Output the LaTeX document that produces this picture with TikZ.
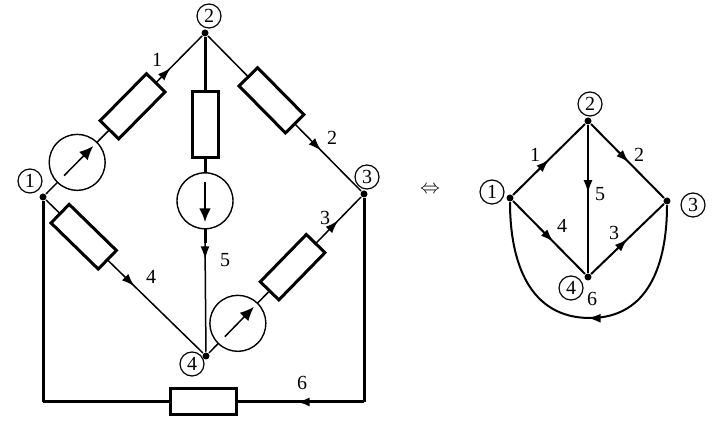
\documentclass[tikz,border=0pt]{standalone}
\usepackage{fontspec}
\setmainfont{Liberation Serif}
\usetikzlibrary{arrows.meta,decorations.markings,calc}

\begin{document}
\begin{tikzpicture}[x=0.5pt, y=-0.5pt, line width=0.75pt,
  dot/.style={circle, fill, inner sep=0pt, minimum size=3.5pt},
  num/.style={circle, draw, line width=0.6pt, inner sep=0.5pt, minimum size=12pt},
  res/.style={draw, fill=white, line width=1.5pt, minimum width=33pt, minimum height=13pt,
    inner sep=0pt, sloped, allow upside down},
  src/.style={circle, draw, fill=white, line width=0.7pt, minimum size=28pt, inner sep=0pt,
    sloped, allow upside down},
  fat/.style={line width=1.5pt},
  midarrow/.style={postaction={decorate}, decoration={markings,
    mark=at position #1 with {\arrow{Latex[length=6.5pt,width=4.5pt]}}}},
  srcarrow/.style={-{Latex[length=7pt,width=6pt]}}]
  \useasboundingbox (0,0) rectangle (721,431);

  % circuit
  \node[dot] (n1) at (43,197) {};
  \node[dot] (n2) at (205,33) {};
  \node[dot] (n3) at (364,194) {};
  \node[dot] (n4) at (206,356) {};
  \node[num] (l1) at (30,181) {1};
  \node[num] (l2) at (209,16) {2};
  \node[num] (l3) at (367,177) {3};
  \node[num] (l4) at (192,364) {4};
  \coordinate (c5) at (205,243);
  \coordinate (c6l) at (43,402);
  \coordinate (c6r) at (364,402);

  \draw[midarrow=0.8] (n1) -- node[src, pos=0.2] (s1) {} node[res, pos=0.555] (r1) {} (n2);
  \draw[midarrow=0.74] (n2) -- node[res, pos=0.415] (r2) {} (n3);
  \draw[midarrow=0.85] (n4) -- node[src, pos=0.19] (s3) {} node[res, pos=0.55] (r3) {} (n3);
  \draw[midarrow=0.565] (n1) -- node[res, pos=0.24] (r4) {} (n4);
  \draw[fat] (n2) -- node[res, pos=0.424] (r5) {} node[src, pos=0.795] (s5) {} (c5);
  \draw[midarrow=0.15] (c5) -- (n4);
  \draw[fat] (n1) -- (c6l);
  \draw[fat, midarrow=0.21] (c6r) -- node[res, pos=0.5] (r6) {} (c6l);
  \draw[fat] (c6r) -- (n3);

  \draw[srcarrow] ($(s1.center)!0.65!(s1.west)$) -- ($(s1.center)!0.8!(s1.east)$);
  \draw[srcarrow] ($(s3.center)!0.65!(s3.west)$) -- ($(s3.center)!0.8!(s3.east)$);
  \draw[srcarrow, line width=1.4pt] ($(s5.center)!0.65!(s5.west)$) -- ($(s5.center)!0.75!(s5.east)$);

  \node at (157,60) {1};
  \node at (332,138) {2};
  \node at (325,218) {3};
  \node at (151,277) {4};
  \node at (225,260) {5};
  \node at (302,383) {6};

  \node (eq) at (430,190) {$\Leftrightarrow$};

  % graph
  \node[dot] (g1) at (510,198) {};
  \node[dot] (g2) at (588,121) {};
  \node[dot] (g3) at (667,201) {};
  \node[dot] (g4) at (588,277) {};
  \node[num] (k1) at (492,192) {1};
  \node[num] (k2) at (590,104) {2};
  \node[num] (k3) at (693,205) {3};
  \node[num] (k4) at (571,288) {4};
  \coordinate (b6) at (590,318);
  \path[line width=1pt]
         (g1) edge[midarrow=0.5] (g2)
         (g2) edge[midarrow=0.52] (g3)
         (g4) edge[midarrow=0.5] (g3)
         (g1) edge[midarrow=0.56] (g4)
         (g2) edge[midarrow=0.46] (g4);
  \draw[line width=1pt, midarrow=0.5] (g3) to[out=-90, in=0, looseness=1.1] (b6)
    to[out=180, in=-90, looseness=1.1] (g1);

  \node at (535,155) {1};
  \node at (639,155) {2};
  \node at (614,233) {3};
  \node at (562,226) {4};
  \node at (600,194) {5};
  \node at (592,299) {6};
\end{tikzpicture}
\end{document}
